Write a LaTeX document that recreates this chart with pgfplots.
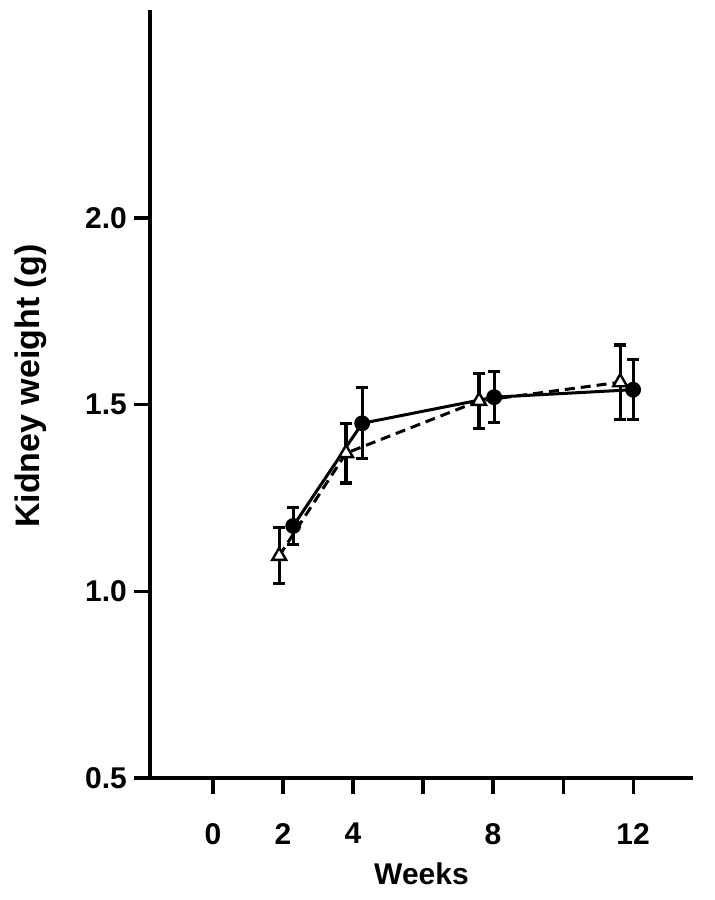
\documentclass[border=0pt]{standalone}
\usepackage{pgfplots}
\pgfplotsset{compat=1.18}
\usepackage{fontspec}
\setmainfont{Liberation Sans}
\begin{document}
\begin{tikzpicture}[x=1pt,y=1pt]
\begin{axis}[
    name=ax,
    at={(0,0)}, anchor=south west,
    scale only axis,
    width=271.5pt, height=384pt,
    xmin=-1.8, xmax=13.71,
    ymin=0.5, ymax=2.557,
    axis x line=bottom, axis y line=left,
    axis line style={line width=2pt, -},
    tick align=outside,
    major tick length=8pt,
    tick style={line width=1.6pt, black},
    xtick={0,2,4,6,8,10,12},
    xticklabels={0,2,4,,8,,12},
    ytick={0.5,1.0,1.5,2.0},
    yticklabel style={/pgf/number format/.cd, fixed, fixed zerofill, precision=1, assume math mode=true},
    xticklabel style={/pgf/number format/assume math mode=true, yshift=-11pt},
    ticklabel style={font=\fontsize{15}{15}\selectfont\bfseries},
    xlabel={Weeks},
    ylabel={Kidney weight (g)},
    xlabel style={font=\fontsize{15}{15}\selectfont\bfseries,
        at={(axis description cs:0.5,-0.125)}, anchor=center},
    ylabel style={font=\fontsize{17}{17}\selectfont\bfseries,
        at={(axis description cs:-0.219,0.51)}, anchor=center},
    clip=false,
]
% open triangles, dashed
\addplot[black, line width=1.5pt, dash pattern=on 5pt off 3pt,
    mark=triangle*, mark size=4pt,
    mark options={solid, fill=white, line width=1.2pt},
    error bars/.cd, y dir=both, y explicit,
    error bar style={line width=1.6pt, solid},
    error mark options={rotate=90, mark size=3pt, line width=1.6pt}]
coordinates {
    (1.89, 1.095) +- (0, 0.075)
    (3.8, 1.37) +- (0, 0.08)
    (7.6, 1.51) +- (0, 0.073)
    (11.63, 1.56) +- (0, 0.10)
};
% filled circles, solid
\addplot[black, line width=1.5pt,
    mark=*, mark size=3.2pt,
    mark options={solid, fill=black},
    error bars/.cd, y dir=both, y explicit,
    error bar style={line width=1.6pt, solid},
    error mark options={rotate=90, mark size=3pt, line width=1.6pt}]
coordinates {
    (2.29, 1.175) +- (0, 0.05)
    (4.26, 1.45) +- (0, 0.095)
    (8.03, 1.52) +- (0, 0.068)
    (12.0, 1.54) +- (0, 0.08)
};
\end{axis}
\pgfresetboundingbox
\path[use as bounding box] (-75pt,-61pt) rectangle ++(357.5pt,450pt);
\end{tikzpicture}
\end{document}
